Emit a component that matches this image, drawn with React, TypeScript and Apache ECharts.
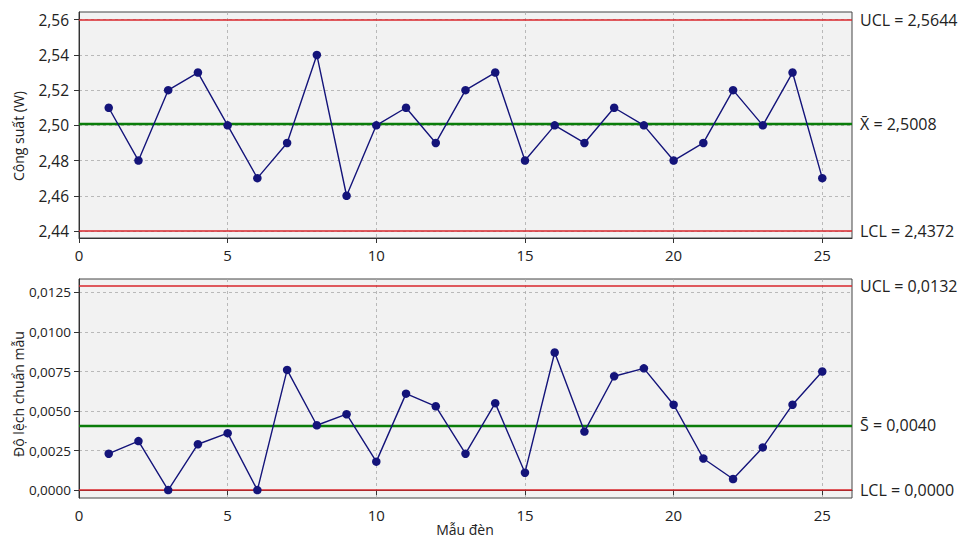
import React, { useEffect, useRef } from "react";
import * as echarts from "echarts";

const samples = [1, 2, 3, 4, 5, 6, 7, 8, 9, 10, 11, 12, 13, 14, 15, 16, 17, 18, 19, 20, 21, 22, 23, 24, 25];
const meanValues = [2.51, 2.48, 2.52, 2.53, 2.50, 2.47, 2.49, 2.54, 2.46, 2.50, 2.51, 2.49, 2.52, 2.53, 2.48, 2.50, 2.49, 2.51, 2.50, 2.48, 2.49, 2.52, 2.50, 2.53, 2.47];
const stdValues = [0.0023, 0.0031, 0.0, 0.0029, 0.0036, 0.0, 0.0076, 0.0041, 0.0048, 0.0018, 0.0061, 0.0053, 0.0023, 0.0055, 0.0011, 0.0087, 0.0037, 0.0072, 0.0077, 0.0054, 0.0020, 0.0007, 0.0027, 0.0054, 0.0075];

const xTicks = [0, 5, 10, 15, 20, 25];
const meanTicks = [2.44, 2.46, 2.48, 2.50, 2.52, 2.54, 2.56];
const stdTicks = [0, 0.0025, 0.005, 0.0075, 0.01, 0.0125];

const meanLimitLabels = ["UCL = 2,5644", "X\u0304 = 2,5008", "LCL = 2,4372"];
const meanLimitLevels = [2.56, 2.5008, 2.44];
const stdLimitLabels = ["UCL = 0,0132", "S\u0304 = 0,0040", "LCL = 0,0000"];
const stdLimitLevels = [0.0129, 0.0041, 0.0];

const FONT = "'Open Sans', 'Noto Sans', sans-serif";
const RED = "#d9262b";
const GREEN = "#0a7d0a";
const NAVY = "#14147a";

export default function App() {
  const ref = useRef<HTMLDivElement>(null);
  useEffect(() => {
    document.body.style.margin = "0";
    if (!ref.current) return;
    const chart = echarts.init(ref.current, null, { renderer: "svg" });

    const limitLines = (levels: number[], labels: string[]) =>
      levels.map((v, i) => ({
        yAxis: v,
        lineStyle: { color: i === 1 ? GREEN : RED, width: i === 1 ? 2.4 : 1.6, type: "solid" },
        label: {
          show: true,
          position: "end",
          distance: 8,
          formatter: labels[i],
          fontFamily: FONT,
          fontSize: 16,
          color: "#222",
        },
      }));

    const xAxisBase = (gridIndex: number) => ({
      type: "value",
      gridIndex,
      min: 0,
      max: 26,
      axisLine: { show: true, lineStyle: { color: "#333" } },
      axisTick: { show: true, length: 5, customValues: xTicks, lineStyle: { color: "#333" } },
      axisLabel: {
        customValues: xTicks,
        fontFamily: FONT,
        fontSize: 15,
        color: "#222",
        margin: 9,
      },
      splitLine: { show: true, lineStyle: { color: "#aaa", type: [3, 3], width: 0.8 } },
    });

    chart.setOption({
      animation: false,
      backgroundColor: "#fff",
      grid: [
        { left: 79, right: 110, top: 12, height: 226, show: true, backgroundColor: "#f2f2f2", borderColor: "#444", borderWidth: 1 },
        { left: 79, right: 110, top: 279, height: 219, show: true, backgroundColor: "#f2f2f2", borderColor: "#444", borderWidth: 1 },
      ],
      xAxis: [xAxisBase(0), xAxisBase(1)],
      yAxis: [
        {
          type: "value",
          gridIndex: 0,
          min: 2.436,
          max: 2.5644,
          axisLine: { show: true, lineStyle: { color: "#333" } },
          axisTick: { show: true, length: 5, customValues: meanTicks, lineStyle: { color: "#333" } },
          axisLabel: {
            customValues: meanTicks,
            formatter: (v: number) => v.toFixed(2).replace(".", ","),
            fontFamily: FONT,
            fontSize: 15.5,
            color: "#222",
            margin: 10,
          },
          splitLine: { show: true, lineStyle: { color: "#aaa", type: [3, 3], width: 0.8 } },
        },
        {
          type: "value",
          gridIndex: 1,
          min: -0.0005,
          max: 0.01335,
          axisLine: { show: true, lineStyle: { color: "#333" } },
          axisTick: { show: true, length: 5, customValues: stdTicks, lineStyle: { color: "#333" } },
          axisLabel: {
            customValues: stdTicks,
            formatter: (v: number) => v.toFixed(4).replace(".", ","),
            fontFamily: FONT,
            fontSize: 13.5,
            color: "#222",
            margin: 8,
          },
          splitLine: { show: true, lineStyle: { color: "#aaa", type: [3, 3], width: 0.8 } },
        },
      ],
      series: [
        {
          type: "line",
          xAxisIndex: 0,
          yAxisIndex: 0,
          data: samples.map((s, i) => [s, meanValues[i]]),
          symbol: "circle",
          symbolSize: 8.5,
          itemStyle: { color: NAVY },
          lineStyle: { color: NAVY, width: 1.4 },
          z: 5,
          markLine: {
            silent: true,
            symbol: "none",
            precision: 4,
            z: 3,
            data: limitLines(meanLimitLevels, meanLimitLabels),
          },
        },
        {
          type: "line",
          xAxisIndex: 1,
          yAxisIndex: 1,
          data: samples.map((s, i) => [s, stdValues[i]]),
          symbol: "circle",
          symbolSize: 8.5,
          itemStyle: { color: NAVY },
          lineStyle: { color: NAVY, width: 1.4 },
          z: 5,
          markLine: {
            silent: true,
            symbol: "none",
            precision: 5,
            z: 3,
            data: limitLines(stdLimitLevels, stdLimitLabels),
          },
        },
      ],
      graphic: [
        {
          type: "text",
          x: 18,
          y: 136,
          rotation: Math.PI / 2,
          style: { text: "Công suất (W)", fontFamily: FONT, fontSize: 14, fill: "#222", textAlign: "center", textVerticalAlign: "middle" },
        },
        {
          type: "text",
          x: 18,
          y: 394,
          rotation: Math.PI / 2,
          style: { text: "Độ lệch chuẩn mẫu", fontFamily: FONT, fontSize: 14, fill: "#222", textAlign: "center", textVerticalAlign: "middle" },
        },
        {
          type: "text",
          x: 465,
          y: 529,
          style: { text: "Mẫu đèn", fontFamily: FONT, fontSize: 14, fill: "#222", textAlign: "center", textVerticalAlign: "middle" },
        },
      ],
    });
    return () => chart.dispose();
  }, []);
  return <div ref={ref} style={{ width: 962, height: 537 }} />;
}
